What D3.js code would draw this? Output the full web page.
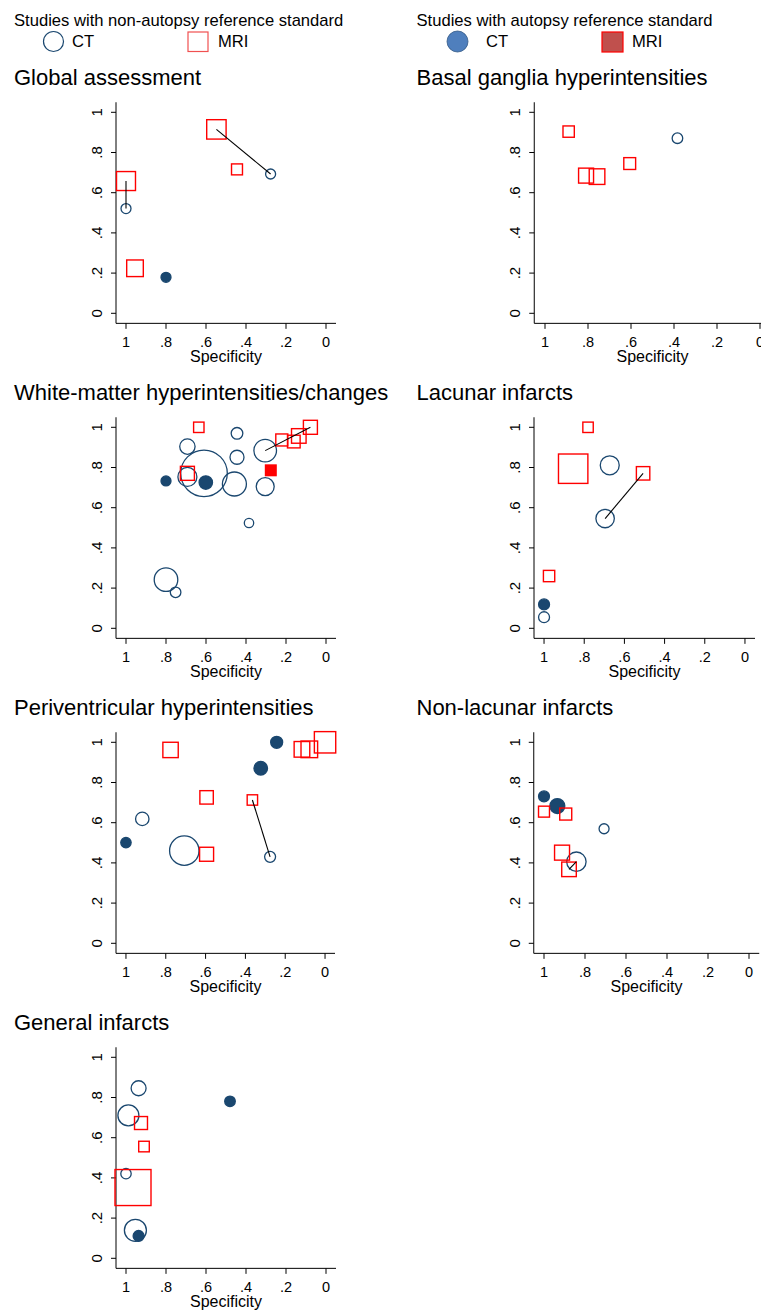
<!DOCTYPE html>
<html>
<head>
<meta charset="utf-8">
<script src="https://cdn.jsdelivr.net/npm/d3@7"></script>
<style>
  body { margin: 0; background: #fff; }
  svg { display: block; font-family: "Liberation Sans", Arial, Helvetica, sans-serif; }
</style>
</head>
<body>
<svg width="761" height="1312"></svg>
<script>
// kinds: ct / mri = non-autopsy reference, ctA / mriA = autopsy reference
// n = study weight (marker area)

const globalSpec = [0.548, 0.277, 0.445, 1.0, 1.0, 0.955, 0.80];
const globalSens = [0.915, 0.693, 0.716, 0.658, 0.521, 0.224, 0.179];
const globalKind = ["mri", "ct", "mri", "mri", "ct", "mri", "ctA"];
const globalN = [94, 25, 30, 90, 25, 69, 25];
const globalLinks = [[0, 1], [3, 4]];

const basalSpec = [0.89, 0.384, 0.606, 0.809, 0.758];
const basalSens = [0.904, 0.871, 0.745, 0.685, 0.680];
const basalKind = ["mri", "ct", "mri", "mri", "mri"];
const basalN = [32, 28, 35, 56, 61];
const basalLinks = [];

const whiteSpec = [0.636, 0.445, 0.693, 0.445, 0.610, 0.693, 0.693, 0.80, 0.601, 0.458,
  0.304, 0.078, 0.221, 0.161, 0.136, 0.276, 0.304, 0.385, 0.80, 0.752];
const whiteSens = [1.0, 0.970, 0.904, 0.851, 0.771, 0.771, 0.753, 0.733, 0.725, 0.718,
  0.884, 1.0, 0.937, 0.929, 0.957, 0.786, 0.705, 0.524, 0.242, 0.179];
const whiteKind = ["mri", "ct", "ct", "ct", "ct", "mri", "ct", "ctA", "ctA", "ct",
  "ct", "mri", "mri", "mri", "mri", "mriA", "ct", "ct", "ct", "ct"];
const whiteN = [27, 34, 59, 49, 543, 49, 90, 25, 45, 144,
  128, 49, 36, 40, 53, 28, 81, 22, 139, 28];
const whiteLinks = [[10, 11]];

const lacunarSpec = [0.781, 0.855, 0.673, 0.507, 0.696, 0.975, 1.0, 1.0];
const lacunarSens = [1.0, 0.794, 0.811, 0.771, 0.546, 0.260, 0.119, 0.055];
const lacunarKind = ["mri", "mri", "ct", "mri", "ct", "mri", "ctA", "ct"];
const lacunarN = [27, 216, 90, 45, 85, 32, 30, 30];
const lacunarLinks = [[3, 4]];

const periSpec = [0.776, 0.243, 0.323, 0.116, 0.079, 0.0, 0.595, 0.365, 0.276, 0.918, 1.0, 0.707, 0.595];
const periSens = [0.962, 1.0, 0.871, 0.965, 0.965, 1.0, 0.726, 0.713, 0.430, 0.619, 0.501, 0.461, 0.443];
const periKind = ["mri", "ctA", "ctA", "mri", "mri", "mri", "mri", "mri", "ct", "ct", "ctA", "ct", "mri"];
const periN = [59, 36, 46, 61, 69, 114, 45, 27, 30, 45, 27, 216, 49];
const periLinks = [[7, 8]];

const nonLacSpec = [1.0, 0.935, 1.0, 0.894, 0.707, 0.912, 0.842, 0.878];
const nonLacSens = [0.731, 0.683, 0.655, 0.643, 0.570, 0.451, 0.406, 0.368];
const nonLacKind = ["ctA", "ctA", "mri", "mri", "ct", "mri", "ct", "mri"];
const nonLacN = [30, 56, 30, 36, 25, 56, 94, 53];
const nonLacLinks = [[6, 7]];

const generalSpec = [0.937, 0.480, 0.988, 0.925, 0.910, 1.0, 0.965, 0.953, 0.937];
const generalSens = [0.846, 0.781, 0.711, 0.673, 0.556, 0.421, 0.352, 0.139, 0.111];
const generalKind = ["ct", "ctA", "ct", "mri", "mri", "ct", "mri", "ct", "ctA"];
const generalN = [56, 28, 110, 42, 28, 27, 324, 121, 30];
const generalLinks = [];

const tickValues = [1, 0.8, 0.6, 0.4, 0.2, 0];
const tickLabel = d => (d === 0 || d === 1) ? String(d) : String(d).replace("0.", ".");

const panels = [
  { title: "Global assessment", spec: globalSpec, sens: globalSens, kind: globalKind, n: globalN, links: globalLinks, col: 0, row: 0, xr: [116, 336] },
  { title: "Basal ganglia hyperintensities", spec: basalSpec, sens: basalSens, kind: basalKind, n: basalN, links: basalLinks, col: 1, row: 0, xr: [534.25, 770.75] },
  { title: "White-matter hyperintensities/changes", spec: whiteSpec, sens: whiteSens, kind: whiteKind, n: whiteN, links: whiteLinks, col: 0, row: 1, xr: [116, 336] },
  { title: "Lacunar infarcts", spec: lacunarSpec, sens: lacunarSens, kind: lacunarKind, n: lacunarN, links: lacunarLinks, col: 1, row: 1, xr: [534, 755] },
  { title: "Periventricular hyperintensities", spec: periSpec, sens: periSens, kind: periKind, n: periN, links: periLinks, col: 0, row: 2, xr: [116, 335] },
  { title: "Non-lacunar infarcts", spec: nonLacSpec, sens: nonLacSens, kind: nonLacKind, n: nonLacN, links: nonLacLinks, col: 1, row: 2, xr: [533.75, 759.25] },
  { title: "General infarcts", spec: generalSpec, sens: generalSens, kind: generalKind, n: generalN, links: generalLinks, col: 0, row: 3, xr: [116, 336] }
];

const navy = "#1a476f";
const red = "#ff0000";

var svg = d3.select("svg");
var size = d3.scaleSqrt().domain([0, 100]).range([0, 10]);

// legend
var leg = svg.append("g").attr("font-size", 16.6).attr("fill", "#000");
leg.append("text").attr("x", 14).attr("y", 25.5).text("Studies with non-autopsy reference standard");
leg.append("circle").attr("cx", 53.5).attr("cy", 41.5).attr("r", 10)
  .attr("fill", "none").attr("stroke", navy).attr("stroke-width", 1.2);
leg.append("text").attr("x", 72).attr("y", 47).text("CT");
leg.append("rect").attr("x", 188).attr("y", 32).attr("width", 20).attr("height", 19.5)
  .attr("fill", "none").attr("stroke", "#f05050").attr("stroke-width", 1.2);
leg.append("text").attr("x", 218).attr("y", 47).text("MRI");

leg.append("text").attr("x", 416.5).attr("y", 25.5).text("Studies with autopsy reference standard");
leg.append("circle").attr("cx", 457.5).attr("cy", 41.5).attr("r", 10.5)
  .attr("fill", "#4f7fbd").attr("stroke", "#2e5683").attr("stroke-width", 0.8);
leg.append("text").attr("x", 486).attr("y", 47).text("CT");
leg.append("rect").attr("x", 602).attr("y", 32).attr("width", 21).attr("height", 20)
  .attr("fill", "#c0504d").attr("stroke", red).attr("stroke-width", 1.2);
leg.append("text").attr("x", 632).attr("y", 47).text("MRI");

panels.forEach(p => {
  var off = 315 * p.row;
  var titleX = p.col === 0 ? 14 : 416.5;
  var g = svg.append("g");

  g.append("text").attr("x", titleX).attr("y", 85 + off)
    .attr("font-size", 22).text(p.title);

  var x = d3.scaleLinear().domain([1.05, -0.05]).range(p.xr);
  var y = d3.scaleLinear().domain([-0.05, 1.05]).range([323.35 + off, 102.25 + off]);

  var x0 = p.xr[0], yBase = y(-0.05);

  // y axis
  g.append("line").attr("x1", x0).attr("x2", x0).attr("y1", y(1.05)).attr("y2", yBase)
    .attr("stroke", "#000").attr("stroke-width", 1);
  tickValues.forEach(t => {
    g.append("line").attr("x1", x0 - 5).attr("x2", x0).attr("y1", y(t)).attr("y2", y(t))
      .attr("stroke", "#000").attr("stroke-width", 1);
    g.append("text")
      .attr("transform", `translate(${x0 - 14},${y(t)}) rotate(-90)`)
      .attr("text-anchor", "middle").attr("font-size", 15).text(tickLabel(t));
  });

  // x axis
  g.append("line").attr("x1", x0).attr("x2", p.xr[1]).attr("y1", yBase).attr("y2", yBase)
    .attr("stroke", "#000").attr("stroke-width", 1);
  tickValues.forEach(t => {
    g.append("line").attr("x1", x(t)).attr("x2", x(t)).attr("y1", yBase).attr("y2", yBase + 5.5)
      .attr("stroke", "#000").attr("stroke-width", 1);
    g.append("text").attr("x", x(t)).attr("y", yBase + 23.5)
      .attr("text-anchor", "middle").attr("font-size", 14.5).text(tickLabel(t));
  });
  g.append("text").attr("x", (x(1) + x(0)) / 2).attr("y", yBase + 39)
    .attr("text-anchor", "middle").attr("font-size", 16).text("Specificity");

  var pts = p.spec.map((s, i) => ({ s: s, se: p.sens[i], k: p.kind[i], n: p.n[i] }));

  g.selectAll("circle.m").data(pts.filter(d => d.k === "ct" || d.k === "ctA"))
    .enter().append("circle").attr("class", "m")
    .attr("cx", d => x(d.s)).attr("cy", d => y(d.se)).attr("r", d => size(d.n))
    .attr("fill", d => d.k === "ctA" ? navy : "none")
    .attr("stroke", navy).attr("stroke-width", 1.3);

  g.selectAll("rect.m").data(pts.filter(d => d.k === "mri" || d.k === "mriA"))
    .enter().append("rect").attr("class", "m")
    .attr("x", d => x(d.s) - size(d.n)).attr("y", d => y(d.se) - size(d.n))
    .attr("width", d => 2 * size(d.n)).attr("height", d => 2 * size(d.n))
    .attr("fill", d => d.k === "mriA" ? red : "none")
    .attr("stroke", red).attr("stroke-width", 1.4);

  g.selectAll("line.link").data(p.links).enter().append("line").attr("class", "link")
    .attr("x1", d => x(p.spec[d[0]])).attr("y1", d => y(p.sens[d[0]]))
    .attr("x2", d => x(p.spec[d[1]])).attr("y2", d => y(p.sens[d[1]]))
    .attr("stroke", "#000").attr("stroke-width", 1.1);
});
</script>
</body>
</html>
